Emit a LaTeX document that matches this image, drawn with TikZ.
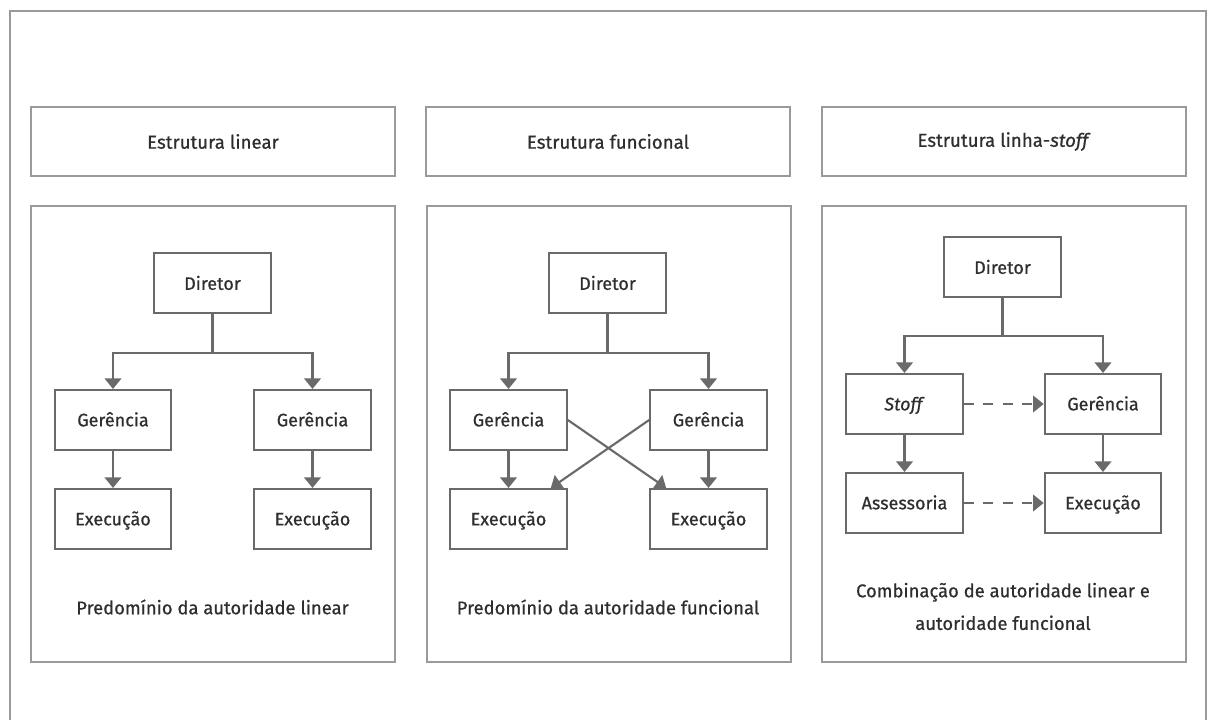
\documentclass[tikz,border=0pt]{standalone}
\usepackage{fontspec}
\setmainfont{Fira Sans}[FakeBold=0.7]
\usetikzlibrary{arrows.meta,calc}
\definecolor{boxline}{HTML}{6A6A6A}
\definecolor{frameline}{HTML}{9A9A9A}
\definecolor{txt}{HTML}{2E2E2E}
\tikzset{
  orgbox/.style={draw=boxline, line width=1.5pt, minimum width=87.5pt, minimum height=45pt, inner sep=0pt, text height=12pt, text depth=2.5pt, text=txt, font=\fontsize{13.5}{16}\selectfont},
  titlebox/.style={draw=frameline, line width=1.5pt, minimum width=273pt, minimum height=51.75pt, inner sep=0pt, text=txt, font=\fontsize{14}{17}\selectfont},
  panel/.style={draw=frameline, line width=1.5pt, minimum width=273pt, minimum height=342pt, inner sep=0pt},
  caption/.style={text=txt, font=\fontsize{13.8}{24.5}\selectfont, align=center, inner sep=0pt},
  conn/.style={draw=boxline, line width=1.6pt, -{Triangle[width=12.5pt,length=8pt]}},
  dconn/.style={conn, dash pattern=on 7.5pt off 7pt},
}
\begin{document}
\begin{tikzpicture}[x=0.75pt,y=-0.75pt]
\useasboundingbox (0,0) rectangle (1208,720);
% outer frame
\coordinate (f1) at (10,722);
\coordinate (f2) at (10,11);
\coordinate (f3) at (1206,11);
\coordinate (f4) at (1206,722);
\draw[frameline, line width=1.2pt] (f1) -- (f2) -- (f3) -- (f4);
% title boxes
\node[titlebox] (t1) at (213,141.5) {Estrutura linear};
\node[titlebox] (t2) at (608,141.5) {Estrutura funcional};
\node[titlebox] (t3) at (1004,141.5) {Estrutura linha-\textit{stoff}};
% panels
\node[panel] (p1) at (213,434) {};
\node[panel] (p2) at (608.5,434) {};
\node[panel] (p3) at (1004,434) {};

% ---- Panel 1
\node[orgbox] (d1) at (212.5,283.5) {Diretor};
\node[orgbox] (g1l) at (113,420) {Gerência};
\node[orgbox] (g1r) at (312.5,420) {Gerência};
\node[orgbox] (e1l) at (113,519) {Execução};
\node[orgbox] (e1r) at (312.5,519) {Execução};
\coordinate (b1) at (212.5,353);
\draw[conn] (d1.south) -- (b1) -| (g1l.north);
\draw[conn] (b1) -| (g1r.north);
\draw[conn] (g1l) -- (e1l);
\draw[conn] (g1r) -- (e1r);
\node[caption] (c1) at (212.5,607) {Predomínio da autoridade linear};

% ---- Panel 2
\node[orgbox] (d2) at (607.5,283.5) {Diretor};
\node[orgbox] (g2l) at (508.5,420) {Gerência};
\node[orgbox] (g2r) at (708.5,420) {Gerência};
\node[orgbox] (e2l) at (508.5,519) {Execução};
\node[orgbox] (e2r) at (708.5,519) {Execução};
\coordinate (b2) at (607.5,353);
\draw[conn] (d2.south) -- (b2) -| (g2l.north);
\draw[conn] (b2) -| (g2r.north);
\draw[conn] (g2l) -- (e2l);
\draw[conn] (g2r) -- (e2r);
\draw[conn] (g2l.east) -- ([xshift=12.75pt]e2r.north west);
\draw[conn] (g2r.west) -- ([xshift=-12.75pt]e2l.north east);
\node[caption] (c2) at (608,607) {Predomínio da autoridade funcional};

% ---- Panel 3
\node[orgbox] (d3) at (1002.5,267.5) {Diretor};
\node[orgbox] (s3) at (904.5,404) {\textit{Stoff}};
\node[orgbox] (g3) at (1103,404) {Gerência};
\node[orgbox] (a3) at (904.5,503) {Assessoria};
\node[orgbox] (e3) at (1103,503) {Execução};
\coordinate (b3) at (1002.5,336);
\draw[conn] (d3.south) -- (b3) -| (s3.north);
\draw[conn] (b3) -| (g3.north);
\draw[conn] (s3) -- (a3);
\draw[conn] (g3) -- (e3);
\draw[dconn] (s3.east) -- (g3.west);
\draw[dconn] (a3.east) -- (e3.west);
\node[caption] (c3) at (1003,606.5) {Combinação de autoridade linear e\\autoridade funcional};
\end{tikzpicture}
\end{document}
